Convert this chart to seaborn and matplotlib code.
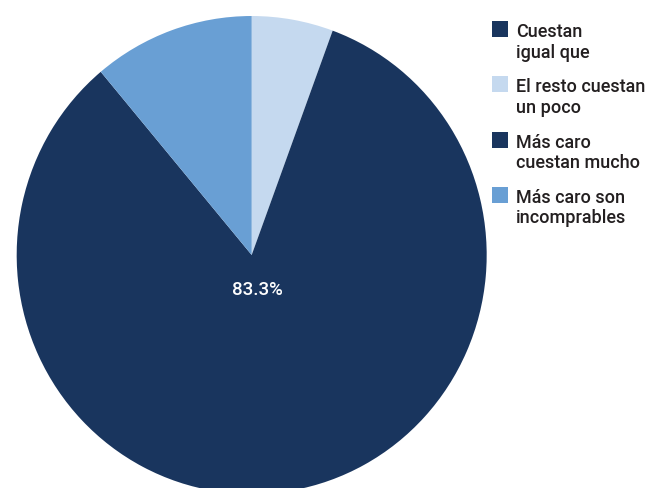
import matplotlib
matplotlib.use("Agg")
import matplotlib.pyplot as plt
from matplotlib.patches import Rectangle
import seaborn as sns

# Survey answers and their shares (%)
categories = [
    "Cuestan\nigual que",
    "El resto cuestan\nun poco",
    "Más caro\ncuestan mucho",
    "Más caro son\nincomprables",
]
shares = [0.0, 5.6, 83.3, 11.1]
colors = ["#19355e", "#c5d9ef", "#19355e", "#699fd4"]

sns.set_theme(style="white")
plt.rcParams["font.family"] = ["Roboto", "DejaVu Sans"]

W, H = 649, 488
fig = plt.figure(figsize=(W / 100, H / 100), dpi=100)
fig.patch.set_facecolor("white")
ax = fig.add_axes([0.0257, -0.0123, 0.7242, 0.9795])

wedges, texts, autotexts = ax.pie(
    shares,
    colors=colors,
    startangle=90,
    counterclock=False,
    radius=1.0,
    autopct=lambda p: f"{p:.1f}%" if p > 50 else "",
    pctdistance=0.15,
    wedgeprops=dict(linewidth=0),
    textprops=dict(color="white", fontsize=13.5, fontweight="medium"),
)
ax.set_aspect("auto")
ax.set_xlim(-1, 1)
ax.set_ylim(-1, 1)
ax.axis("off")

# Legend: colour square beside the first line of each two-line label
def fx(px):
    return px / W

def fy(py):
    return 1 - py / H

box_left, box_size = 492, 16
text_left = 516
first_top = 21
step = 55.3
line_gap = 20.5
for i, (label, color) in enumerate(zip(categories, colors)):
    top = first_top + i * step
    fig.add_artist(Rectangle((fx(box_left), fy(top + box_size)),
                             box_size / W, box_size / H,
                             transform=fig.transFigure, facecolor=color,
                             edgecolor="none"))
    for j, line in enumerate(label.split("\n")):
        fig.text(fx(text_left), fy(top + 16 + j * line_gap), line,
                 ha="left", va="baseline", fontsize=13,
                 fontweight="medium", color="#231f20")

fig.savefig("out.png", dpi=100, facecolor="white")
